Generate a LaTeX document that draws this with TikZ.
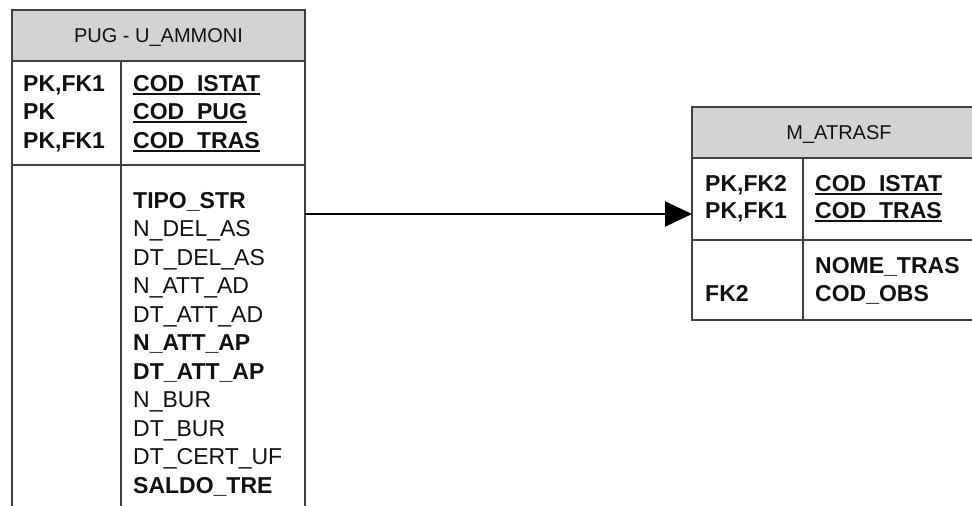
\documentclass[tikz,border=0pt]{standalone}
\usepackage{fontspec}
\setmainfont{Liberation Sans}
\usepackage{tikz}
\usetikzlibrary{arrows.meta}
\definecolor{edge}{HTML}{404040}
\definecolor{headfill}{HTML}{D3D3D3}
\definecolor{ink}{HTML}{111111}
\newcommand{\keyname}[1]{\setbox0\hbox{#1}\rlap{\rule[-3.5pt]{\wd0}{1.6pt}}\box0}
\tikzset{
  frame/.style={draw=edge,line width=1.8pt},
  head/.style={frame,fill=headfill},
  title/.style={anchor=base,font=\fontsize{20}{24}\selectfont,text=ink,inner sep=0pt},
  fld/.style={anchor=base west,font=\fontsize{23}{28}\selectfont,text=ink,inner sep=0pt},
  keyfld/.style={fld,font=\fontsize{23}{28}\selectfont\bfseries},
  link/.style={-{Triangle[length=27pt,width=25pt]},draw=black,line width=2.4pt}
}

\begin{document}
\begin{tikzpicture}[x=1pt,y=-1pt]
  \useasboundingbox (0,0) rectangle (972,506);
  \clip (0,0) rectangle (972,506);
  % PUG - U_AMMONI
  \draw[head] (12,10) rectangle (305,61);
  \draw[frame] (12,61) rectangle (305,530);
  \draw[frame] (12,165) -- (305,165);
  \draw[frame] (121,61) -- (121,530);
  \node[title] (pugt) at (158.5,42) {PUG - U\_AMMONI};
  \node[keyfld] (pugk1) at (23,91) {PK,FK1};
  \node[keyfld] (pugk2) at (23,119.5) {PK};
  \node[keyfld] (pugk3) at (23,148) {PK,FK1};
  \node[keyfld] (pugc1) at (133,91) {\keyname{COD\_ISTAT}};
  \node[keyfld] (pugc2) at (133,119.5) {\keyname{COD\_PUG}};
  \node[keyfld] (pugc3) at (133,148) {\keyname{COD\_TRAS}};
  \foreach \f [count=\i from 0] in {{\bfseries TIPO\_STR},N\_DEL\_AS,DT\_DEL\_AS,N\_ATT\_AD,DT\_ATT\_AD,
      {\bfseries N\_ATT\_AP},{\bfseries DT\_ATT\_AP},N\_BUR,DT\_BUR,DT\_CERT\_UF,{\bfseries SALDO\_TRE}}
    \node[fld] (pugf\i) at (133,208+28.5*\i) {\f};
  \coordinate (pugout) at (305,214);

  % M_ATRASF
  \draw[head] (692,107) rectangle (986,158);
  \draw[frame] (692,158) rectangle (986,320);
  \draw[frame] (692,240) -- (986,240);
  \draw[frame] (803,158) -- (803,320);
  \node[title] (atrt) at (839,139) {M\_ATRASF};
  \node[keyfld] (atrk1) at (705,191) {PK,FK2};
  \node[keyfld] (atrk2) at (705,218) {PK,FK1};
  \node[keyfld] (atrc1) at (815,191) {\keyname{COD\_ISTAT}};
  \node[keyfld] (atrc2) at (815,218) {\keyname{COD\_TRAS}};
  \node[keyfld] (atrf1) at (815,273) {NOME\_TRAS};
  \node[keyfld] (atrk3) at (705,301) {FK2};
  \node[keyfld] (atrf2) at (815,301) {COD\_OBS};
  \coordinate (atrin) at (692,214);

  \draw[link] (pugout) -- (atrin);
\end{tikzpicture}
\end{document}
